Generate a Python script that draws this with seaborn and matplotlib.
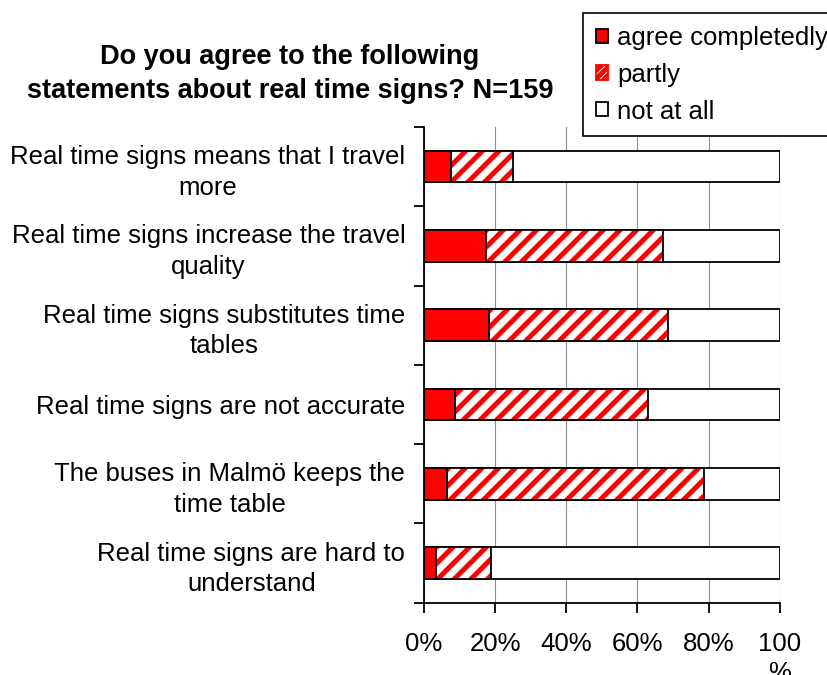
import matplotlib
matplotlib.use("Agg")
import matplotlib.pyplot as plt
import seaborn as sns
import numpy as np
from matplotlib.patches import Patch

categories = [
    "Real time signs means that I travel\nmore",
    "Real time signs increase the travel\nquality",
    "Real time signs substitutes time\ntables",
    "Real time signs are not accurate",
    "The buses in Malmö keeps the\ntime table",
    "Real time signs are hard to\nunderstand",
]
agree_completely = [7.5, 17.4, 18.3, 8.6, 6.5, 3.3]
partly = [17.6, 49.7, 50.3, 54.4, 72.3, 15.6]
not_at_all = [74.9, 32.9, 31.4, 37.0, 21.2, 81.1]
series_names = ["agree completedly", "partly", "not at all"]
xtick_values = [0, 20, 40, 60, 80, 100]
xtick_labels = ["0%", "20%", "40%", "60%", "80%", "100\n%"]
title = "Do you agree to the following\nstatements about real time signs? N=159"

plt.rcParams["font.family"] = ["Liberation Sans", "DejaVu Sans"]
plt.rcParams["hatch.linewidth"] = 3.6

a = np.array(agree_completely)
p = np.array(partly)
n = np.array(not_at_all)
cum_total = a + p + n
cum_partly = a + p

fig = plt.figure(figsize=(8.28, 6.75), dpi=100)
ax = fig.add_axes([424 / 828, 1 - 602.7 / 675, (779.7 - 424) / 828, (602.7 - 127) / 675])

bw = 0.4
sns.barplot(x=cum_total, y=categories, orient="h", color="white", saturation=1,
            width=bw, edgecolor="black", linewidth=1.3, ax=ax)
n0 = len(ax.patches)
sns.barplot(x=cum_partly, y=categories, orient="h", color="white", saturation=1,
            width=bw, edgecolor="#ff0000", linewidth=0, ax=ax)
for patch in ax.patches[n0:]:
    patch.set_hatch("//")
    patch.set_edgecolor("#ff0000")
    patch.set_linewidth(0)
sns.barplot(x=cum_partly, y=categories, orient="h", fill=False, saturation=1,
            width=bw, edgecolor="black", linewidth=1.3, ax=ax)
sns.barplot(x=a, y=categories, orient="h", color="#ff0000", saturation=1,
            width=bw, edgecolor="black", linewidth=1.3, ax=ax)

ax.set_xlim(0, 100)
ax.set_ylim(5.5, -0.5)
ax.set_xlabel("")
ax.set_ylabel("")
ax.set_xticks(xtick_values)
ax.set_xticklabels(xtick_labels, fontsize=18.5, multialignment="center", linespacing=1.25)
ax.set_yticks(range(len(categories)))
ax.set_yticklabels(categories, fontsize=18.5)
for lbl in ax.get_yticklabels():
    lbl.set_multialignment("center")
    lbl.set_linespacing(1.35)
ax.set_yticks(np.arange(-0.5, len(categories), 1.0), minor=True)
ax.tick_params(axis="y", which="major", length=0, pad=13.5)
ax.tick_params(axis="y", which="minor", length=7, width=1.3, color="black", direction="out")
ax.tick_params(axis="x", which="major", length=7, width=1.3, direction="out", pad=14)

ax.xaxis.grid(True, color="#909090", linewidth=0.8)
ax.set_axisbelow(True)
for s in ["top", "right"]:
    ax.spines[s].set_visible(False)
for s in ["left", "bottom"]:
    ax.spines[s].set_linewidth(1.3)
    ax.spines[s].set_color("black")

fig.text(290 / 828, 1 - 74 / 675, title, ha="center", va="center", fontsize=19.5,
         fontweight="bold", linespacing=1.45)

handles = [
    Patch(facecolor="#ff0000", edgecolor="black", linewidth=1.3),
    Patch(facecolor="white", edgecolor="black", linewidth=1.3, hatch="////"),
    Patch(facecolor="white", edgecolor="black", linewidth=1.3),
]
leg = fig.legend(handles, series_names, loc="upper left",
                 bbox_to_anchor=(583 / 828, 1 - 13 / 675), fontsize=18.5,
                 frameon=True, fancybox=False, edgecolor="black", framealpha=1,
                 handlelength=0.47, handleheight=0.47, handletextpad=0.36,
                 borderaxespad=0, borderpad=0.5, labelspacing=0.5)
leg.get_frame().set_linewidth(1.2)
hp = leg.legend_handles[1]
hp.set_edgecolor("#ff0000")

fig.savefig("out.png", dpi=100)
